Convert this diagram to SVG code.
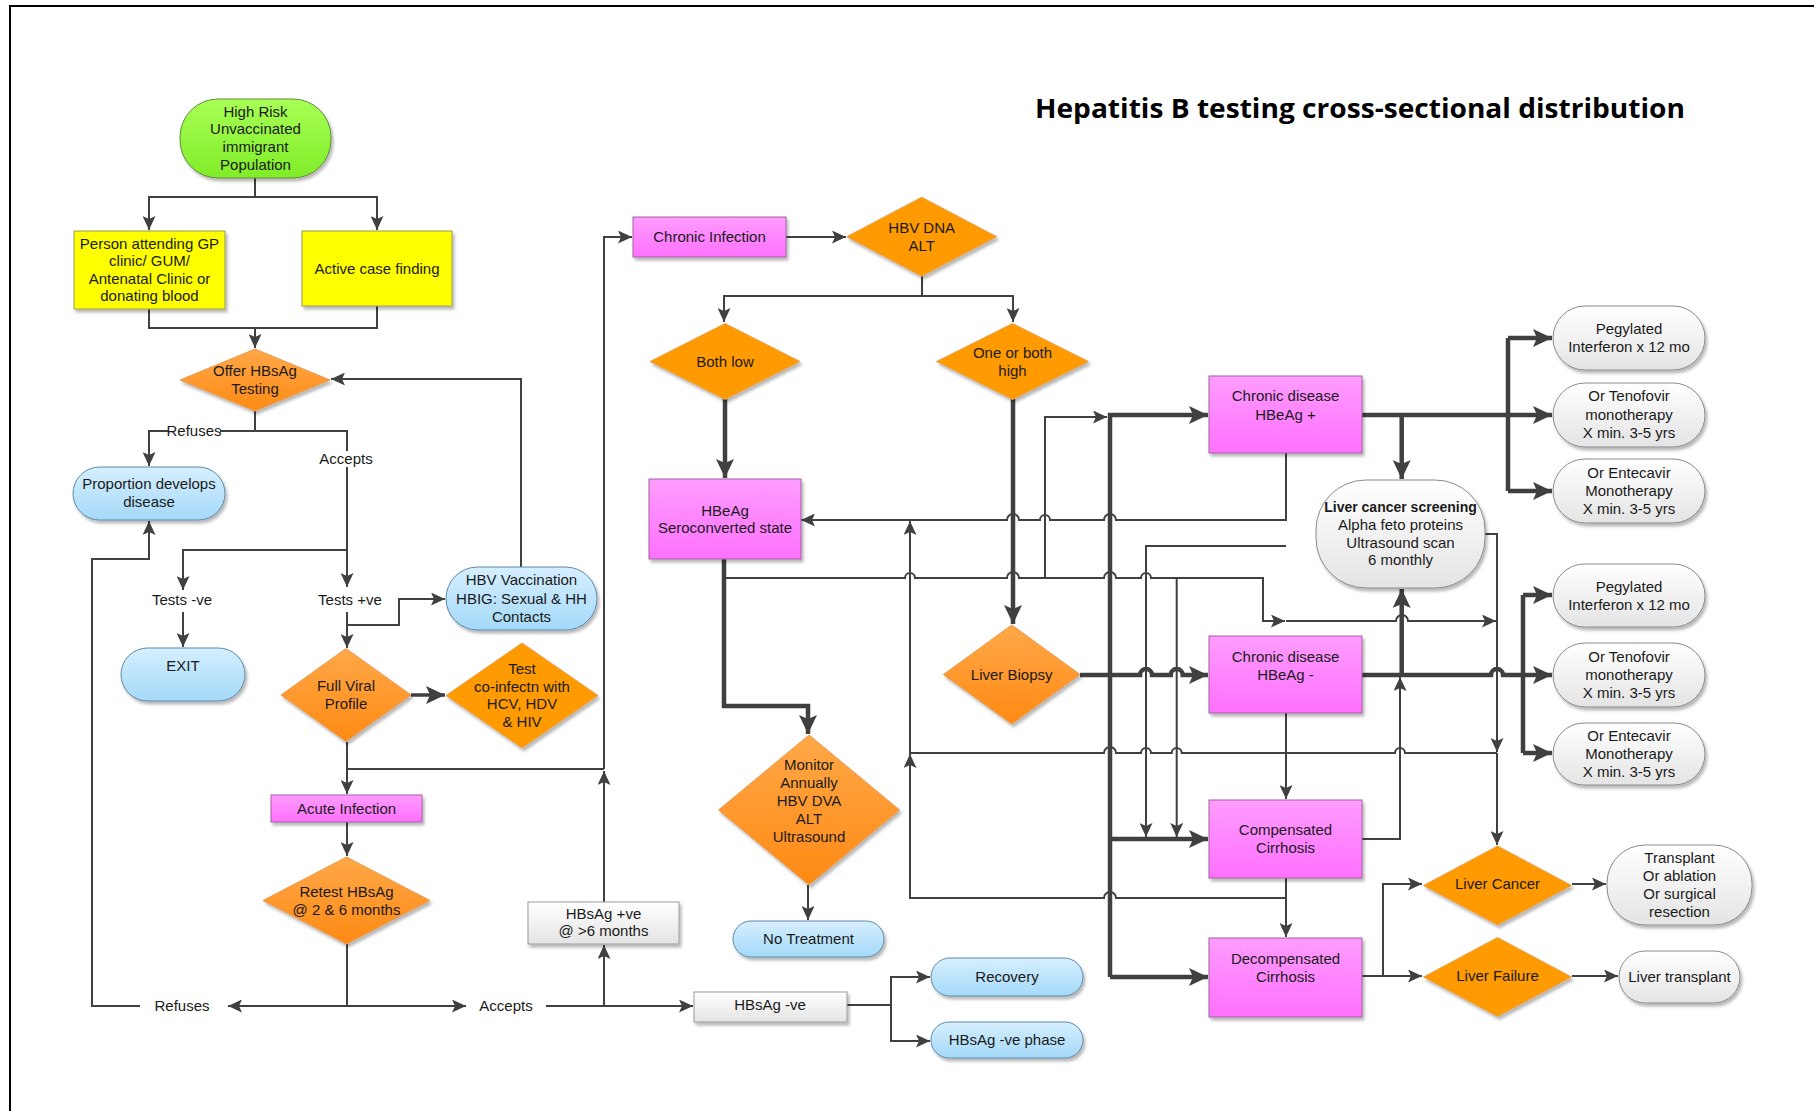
<svg xmlns="http://www.w3.org/2000/svg" width="1814" height="1111" viewBox="0 0 1814 1111">
<defs>
<style>
.t{font-family:"Liberation Sans",Arial,sans-serif;font-size:15px;fill:#1a1a1a;text-anchor:middle}
.tb{font-weight:bold;font-size:14px}
.title{font-family:"Open Sans","Liberation Sans",Arial,sans-serif;font-size:26px;font-weight:bold;fill:#000}
.c{fill:none;stroke:#404040;stroke-width:2}
.k{fill:none;stroke:#404040;stroke-width:4.5}
.m{fill:none;stroke:#404040;stroke-width:3.5}
.ca{marker-end:url(#a)}
.ka{marker-end:url(#ak)}
.lbl{fill:#fff}
.yel{fill:#ffff00;stroke:#9a9a50;stroke-width:1;filter:url(#sh)}
.grn{fill:url(#gG);stroke:#5e8c3a;stroke-width:1;filter:url(#sh)}
.org{fill:url(#gO);stroke:#e89a50;stroke-width:1;filter:url(#sh)}
.ors{fill:#ff9a00;stroke:#e8a050;stroke-width:1;filter:url(#sh)}
.mag{fill:url(#gM);stroke:#a060a0;stroke-width:1;filter:url(#sh)}
.blu{fill:url(#gB);stroke:#5c88a8;stroke-width:1;filter:url(#sh)}
.wht{fill:url(#gW);stroke:#8a8a8a;stroke-width:1;filter:url(#sh)}
.gry{fill:url(#gW);stroke:#9a9a9a;stroke-width:1;filter:url(#sh)}
</style>
<filter id="sh" x="-10%" y="-10%" width="130%" height="140%">
<feDropShadow dx="2" dy="3" stdDeviation="1.5" flood-color="#000" flood-opacity="0.28"/>
</filter>
<linearGradient id="gG" x1="0" y1="0" x2="0" y2="1"><stop offset="0" stop-color="#a8ff55"/><stop offset="1" stop-color="#80ec28"/></linearGradient>
<linearGradient id="gO" x1="0" y1="0" x2="0" y2="1"><stop offset="0" stop-color="#ffa848"/><stop offset="1" stop-color="#ff8a14"/></linearGradient>
<linearGradient id="gM" x1="0" y1="0" x2="0" y2="1"><stop offset="0" stop-color="#ff9cff"/><stop offset="1" stop-color="#ff70ff"/></linearGradient>
<linearGradient id="gB" x1="0" y1="0" x2="0" y2="1"><stop offset="0" stop-color="#d6efff"/><stop offset="1" stop-color="#a4d9f8"/></linearGradient>
<linearGradient id="gW" x1="0" y1="0" x2="0" y2="1"><stop offset="0" stop-color="#ffffff"/><stop offset="1" stop-color="#e4e4e4"/></linearGradient>
<marker id="a" markerUnits="userSpaceOnUse" markerWidth="15" markerHeight="13" refX="14" refY="6.5" orient="auto"><path d="M0,0 L14,6.5 L0,13 L3,6.5 z" fill="#404040"/></marker>
<marker id="ak" markerUnits="userSpaceOnUse" markerWidth="20" markerHeight="18" refX="19" refY="9" orient="auto"><path d="M0,0 L19,9 L0,18 L4,9 z" fill="#404040"/></marker>
</defs>
<rect width="1814" height="1111" fill="#fff"/>
<path d="M10,1111 V6 H1814" fill="none" stroke="#000" stroke-width="2"/>
<text class="title" x="1035" y="118" textLength="650" lengthAdjust="spacingAndGlyphs">Hepatitis B testing cross-sectional distribution</text>

<g id="connectors">
<path class="c ca" d="M255,178 V197 H149 V230"/>
<path class="c ca" d="M255,197 H377 V230"/>
<path class="c" d="M149,309 V328 H377 V306"/>
<path class="c ca" d="M255,328 V348"/>
<path class="c ca" d="M255,411 V431 H149 V466"/>
<path class="c ca" d="M255,431 H347 V587"/>
<path class="c ca" d="M347,550 H183 V590"/>
<path class="c ca" d="M183,612 V647"/>
<path class="c ca" d="M347,612 V648"/>
<path class="c ca" d="M347,625 H399 V599 H445"/>
<path class="c ca" d="M521,567 V379 H331"/>
<path class="m ka" d="M411,695 H445"/>
<path class="c ca" d="M347,742 V794"/>
<path class="c" d="M347,769 H604"/>
<path class="c ca" d="M347,822 V856"/>
<path class="c ca" d="M347,944 V1006 H228"/>
<path class="c ca" d="M140,1006 H92 V559 H149 V521"/>
<path class="c ca" d="M347,1006 H466"/>
<path class="c ca" d="M546,1006 H693"/>
<path class="c ca" d="M604,1006 V945"/>
<path class="c ca" d="M604,902 V771"/>
<path class="c ca" d="M604,769 V237 H632"/>
<path class="c ca" d="M847,1005 H891 V977 H930"/>
<path class="c ca" d="M891,1005 V1041 H930"/>
<path class="c ca" d="M786,237 H846"/>
<path class="c ca" d="M922,276 V296 H724 V322"/>
<path class="c ca" d="M922,296 H1013 V322"/>
<path class="k ka" d="M725,399 V478"/>
<path class="k ka" d="M724,559 V706 H808 V734"/>
<path class="c ca" d="M808,885 V920"/>
<path class="k ka" d="M1013,399 V624"/>
<path class="c ca" d="M1286,453 V520 H1116 A6,6 0 0 0 1104,520 H1050 A5,5 0 0 0 1040,520 H1019 A6,6 0 0 0 1007,520 H801"/>
<path class="c ca" d="M1045,578 V417 H1107"/>
<path class="c ca" d="M1286,546 H1146 V837"/>
<path class="c ca" d="M724,578 H905 A5,5 0 0 1 915,578 H1007 A6,6 0 0 1 1019,578 H1104 A6,6 0 0 1 1116,578 H1141 A5,5 0 0 1 1151,578 H1263 V621 H1285"/>
<path class="c ca" d="M1176.7,578 V837"/>
<path class="c ca" d="M1286,621 H1396 A6,6 0 0 1 1408,621 H1496"/>
<path class="c ca" d="M1485,534 H1497 V752"/>
<path class="c ca" d="M1497,753 V845"/>
<path class="c ca" d="M1497,753 H1405 A5,5 0 0 0 1395,753 H1181.7 A5,5 0 0 0 1171.7,753 H1151 A5,5 0 0 0 1141,753 H1116 A6,6 0 0 0 1104,753 H910 V521"/>
<path class="c ca" d="M1286,898 H1116 A6,6 0 0 0 1104,898 H910 V754"/>
<path class="c ca" d="M1286,878 V937"/>
<path class="c ca" d="M1286,713 V799"/>
<path class="c ca" d="M1362,839 H1400 V677"/>
<path class="k ka" d="M1080,675 H1140 A6,6 0 0 1 1152,675 H1170.7 A6,6 0 0 1 1182.7,675 H1208"/>
<path class="k ka" d="M1110,977 V415 H1208"/>
<path class="k ka" d="M1110,839 H1208"/>
<path class="k ka" d="M1110,977 H1208"/>
<path class="k ka" d="M1362,675 H1491 A6,6 0 0 1 1503,675 H1552"/>
<path class="k" d="M1523,595 V753"/>
<path class="k ka" d="M1523,595 H1552"/>
<path class="k ka" d="M1523,753 H1552"/>
<path class="k ka" d="M1401.7,675 V589"/>
<path class="k ka" d="M1362,415 H1552"/>
<path class="k" d="M1508,338 V491"/>
<path class="k ka" d="M1508,338 H1552"/>
<path class="k ka" d="M1508,491 H1552"/>
<path class="k ka" d="M1401.7,415 V479"/>
<path class="c ca" d="M1362,976 H1422"/>
<path class="c ca" d="M1383,976 V884 H1422"/>
<path class="c ca" d="M1572,884 H1606"/>
<path class="c ca" d="M1572,976 H1618"/>
<rect class="lbl" x="168" y="423" width="52" height="16"/>
<text class="t" x="194" y="436">Refuses</text>
<rect class="lbl" x="318" y="451" width="56" height="16"/>
<text class="t" x="346" y="464">Accepts</text>
<text class="t" x="182" y="605">Tests -ve</text>
<text class="t" x="350" y="605">Tests +ve</text>
<text class="t" x="182" y="1011">Refuses</text>
<text class="t" x="506" y="1011">Accepts</text>
</g>

<g id="n-highrisk"><rect class="grn" x="180" y="99" width="151" height="79" rx="38"/>
<text class="t" x="255.5" y="117">High Risk</text><text class="t" x="255.5" y="134">Unvaccinated</text><text class="t" x="255.5" y="152">immigrant</text><text class="t" x="255.5" y="170">Population</text></g>
<g id="n-gp"><rect class="yel" x="74" y="231" width="151" height="78"/>
<text class="t" x="149.5" y="249">Person attending GP</text><text class="t" x="149.5" y="266">clinic/ GUM/</text><text class="t" x="149.5" y="284">Antenatal Clinic or</text><text class="t" x="149.5" y="301">donating blood</text></g>
<g id="n-active"><rect class="yel" x="302" y="231" width="150" height="75"/>
<text class="t" x="377" y="274">Active case finding</text></g>
<g id="n-offer"><polygon class="org" points="255,349 330,380 255,411 180,380"/>
<text class="t" x="255" y="376">Offer HBsAg</text><text class="t" x="255" y="394">Testing</text></g>
<g id="n-proportion"><rect class="blu" x="73" y="467" width="152" height="53" rx="26.5"/>
<text class="t" x="149" y="489">Proportion develops</text><text class="t" x="149" y="507">disease</text></g>
<g id="n-exit"><rect class="blu" x="121" y="648" width="124" height="53" rx="26.5"/>
<text class="t" x="183" y="671">EXIT</text></g>
<g id="n-hbvvacc"><rect class="blu" x="446" y="567" width="151" height="63" rx="31.5"/>
<text class="t" x="521.5" y="585">HBV Vaccination</text><text class="t" x="521.5" y="604">HBIG: Sexual &amp; HH</text><text class="t" x="521.5" y="622">Contacts</text></g>
<g id="n-fullviral"><polygon class="org" points="346,648.5 411,695 346,741.5 281,695"/>
<text class="t" x="346" y="691">Full Viral</text><text class="t" x="346" y="709">Profile</text></g>
<g id="n-coinf"><polygon class="ors" points="522,643 598,695.5 522,748 446,695.5"/>
<text class="t" x="522" y="674">Test</text><text class="t" x="522" y="692">co-infectn with</text><text class="t" x="522" y="709">HCV, HDV</text><text class="t" x="522" y="727">&amp; HIV</text></g>
<g id="n-acute"><rect class="mag" x="271" y="795" width="151" height="27"/>
<text class="t" x="346.5" y="814">Acute Infection</text></g>
<g id="n-retest"><polygon class="org" points="346.5,857 430,900.5 346.5,944 263,900.5"/>
<text class="t" x="346.5" y="897">Retest HBsAg</text><text class="t" x="346.5" y="915">@ 2 &amp; 6 months</text></g>
<g id="n-hbsagpos"><rect class="gry" x="528" y="902" width="151" height="42"/>
<text class="t" x="603.5" y="919">HBsAg +ve</text><text class="t" x="603.5" y="936">@ &gt;6 months</text></g>
<g id="n-hbsagneg"><rect class="gry" x="694" y="992" width="153" height="30"/>
<text class="t" x="770" y="1010">HBsAg -ve</text></g>
<g id="n-recovery"><rect class="blu" x="931" y="958" width="152" height="38" rx="19"/>
<text class="t" x="1007" y="982">Recovery</text></g>
<g id="n-negphase"><rect class="blu" x="931" y="1022" width="152" height="36" rx="18"/>
<text class="t" x="1007" y="1045">HBsAg -ve phase</text></g>
<g id="n-chronic"><rect class="mag" x="633" y="217" width="153" height="40"/>
<text class="t" x="709.5" y="242">Chronic Infection</text></g>
<g id="n-hbvdna"><polygon class="ors" points="921.7,197.2 996.7,236.7 921.7,276.2 846.7,236.7"/>
<text class="t" x="921.7" y="233">HBV DNA</text><text class="t" x="921.7" y="251">ALT</text></g>
<g id="n-bothlow"><polygon class="ors" points="725,323.5 800,361.5 725,399.5 650,361.5"/>
<text class="t" x="725" y="367">Both low</text></g>
<g id="n-onehigh"><polygon class="ors" points="1012.5,323.5 1088.5,361.5 1012.5,399.5 936.5,361.5"/>
<text class="t" x="1012.5" y="358">One or both</text><text class="t" x="1012.5" y="376">high</text></g>
<g id="n-hbeag"><rect class="mag" x="649" y="479" width="152" height="80"/>
<text class="t" x="725" y="516">HBeAg</text><text class="t" x="725" y="533">Seroconverted state</text></g>
<g id="n-monitor"><polygon class="org" points="809,735 899.5,810 809,885 718.5,810"/>
<text class="t" x="809" y="770">Monitor</text><text class="t" x="809" y="788">Annually</text><text class="t" x="809" y="806">HBV DVA</text><text class="t" x="809" y="824">ALT</text><text class="t" x="809" y="842">Ultrasound</text></g>
<g id="n-notreat"><rect class="blu" x="733" y="921" width="151" height="36" rx="18"/>
<text class="t" x="808.5" y="944">No Treatment</text></g>
<g id="n-biopsy"><polygon class="org" points="1011.7,625 1080,674.5 1011.7,724 943.4,674.5"/>
<text class="t" x="1011.7" y="680">Liver Biopsy</text></g>
<g id="n-hbeagpos"><rect class="mag" x="1209" y="376" width="153" height="77"/>
<text class="t" x="1285.5" y="401">Chronic disease</text><text class="t" x="1285.5" y="420">HBeAg +</text></g>
<g id="n-hbeagneg"><rect class="mag" x="1209" y="636" width="153" height="77"/>
<text class="t" x="1285.5" y="662">Chronic disease</text><text class="t" x="1285.5" y="680">HBeAg -</text></g>
<g id="n-comp"><rect class="mag" x="1209" y="800" width="153" height="78"/>
<text class="t" x="1285.5" y="835">Compensated</text><text class="t" x="1285.5" y="853">Cirrhosis</text></g>
<g id="n-decomp"><rect class="mag" x="1209" y="938" width="153" height="79"/>
<text class="t" x="1285.5" y="964">Decompensated</text><text class="t" x="1285.5" y="982">Cirrhosis</text></g>
<g id="n-screening"><rect class="wht" x="1316" y="480" width="169" height="108" rx="50"/>
<text class="t tb" x="1400.5" y="512">Liver cancer screening</text><text class="t" x="1400.5" y="530">Alpha feto proteins</text><text class="t" x="1400.5" y="548">Ultrasound scan</text><text class="t" x="1400.5" y="565">6 monthly</text></g>
<g id="n-peg1"><rect class="wht" x="1553" y="306" width="152" height="64" rx="32"/>
<text class="t" x="1629" y="334">Pegylated</text><text class="t" x="1629" y="352">Interferon x 12 mo</text></g>
<g id="n-teno1"><rect class="wht" x="1553" y="383" width="152" height="64" rx="32"/>
<text class="t" x="1629" y="401">Or Tenofovir</text><text class="t" x="1629" y="420">monotherapy</text><text class="t" x="1629" y="438">X min. 3-5 yrs</text></g>
<g id="n-ente1"><rect class="wht" x="1553" y="459" width="152" height="64" rx="32"/>
<text class="t" x="1629" y="478">Or Entecavir</text><text class="t" x="1629" y="496">Monotherapy</text><text class="t" x="1629" y="514">X min. 3-5 yrs</text></g>
<g id="n-peg2"><rect class="wht" x="1553" y="564" width="152" height="63" rx="31.5"/>
<text class="t" x="1629" y="592">Pegylated</text><text class="t" x="1629" y="610">Interferon x 12 mo</text></g>
<g id="n-teno2"><rect class="wht" x="1553" y="643" width="152" height="64" rx="32"/>
<text class="t" x="1629" y="662">Or Tenofovir</text><text class="t" x="1629" y="680">monotherapy</text><text class="t" x="1629" y="698">X min. 3-5 yrs</text></g>
<g id="n-ente2"><rect class="wht" x="1553" y="723" width="152" height="62" rx="31"/>
<text class="t" x="1629" y="741">Or Entecavir</text><text class="t" x="1629" y="759">Monotherapy</text><text class="t" x="1629" y="777">X min. 3-5 yrs</text></g>
<g id="n-livercancer"><polygon class="ors" points="1497.5,846 1571.5,885.5 1497.5,925 1423.5,885.5"/>
<text class="t" x="1497.5" y="889">Liver Cancer</text></g>
<g id="n-liverfailure"><polygon class="ors" points="1497.5,937.5 1571.5,977 1497.5,1016.5 1423.5,977"/>
<text class="t" x="1497.5" y="981">Liver Failure</text></g>
<g id="n-transplant"><rect class="wht" x="1607" y="845" width="145" height="80" rx="38"/>
<text class="t" x="1679.5" y="863">Transplant</text><text class="t" x="1679.5" y="881">Or ablation</text><text class="t" x="1679.5" y="899">Or surgical</text><text class="t" x="1679.5" y="917">resection</text></g>
<g id="n-livertransplant"><rect class="wht" x="1619" y="951" width="121" height="52" rx="26"/>
<text class="t" x="1679.5" y="982">Liver transplant</text></g>
</svg>
